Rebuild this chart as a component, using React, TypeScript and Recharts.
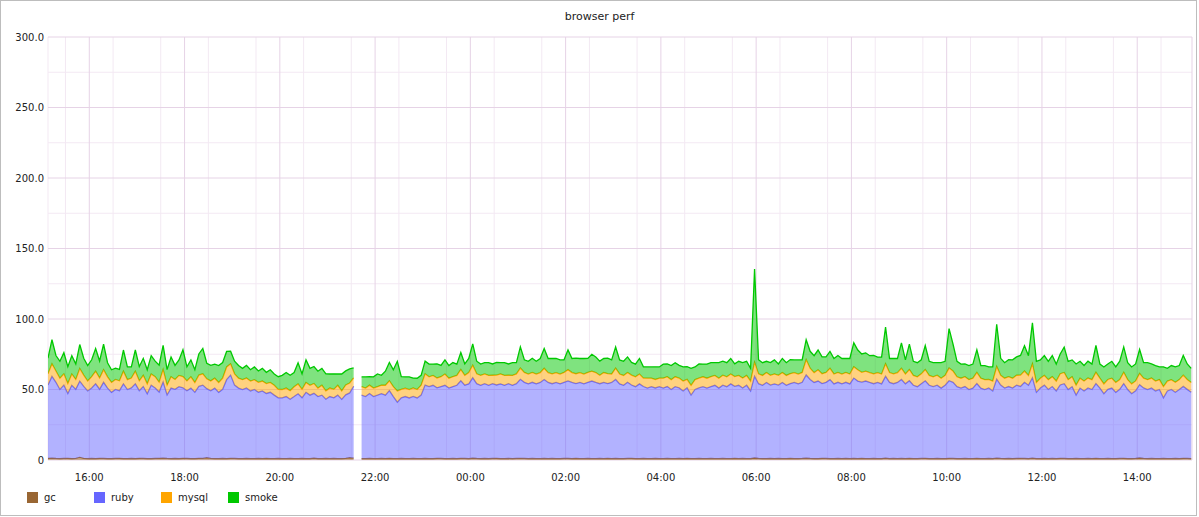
import React from "react"
import { AreaChart, Area, XAxis, YAxis, CartesianGrid, Legend } from "recharts"

if (typeof document !== "undefined") document.body.style.margin = "0"

// samples every 5 minutes starting 15:08 (minutes since midnight of day one)
const START_MIN = 908
const STEP_MIN = 5

const gc = [
  1.2, 1.3, 1.1, 1, 1.1, 1.2, 1, 1.1, 1.9, 1.2, 1,
  1.1, 1, 1.2, 1.1, 1, 1, 1.1, 1.2, 1, 1, 1.1, 1,
  1.2, 1.1, 1, 1, 1.1, 1.2, 1.3, 1.1, 1, 1.1, 1, 1.2,
  1.1, 1, 1, 1.2, 1.1, 1.6, 1.1, 1, 1, 1.1, 1, 1.2,
  1.1, 1, 1, 1.1, 1, 1, 1.1, 1, 1.2, 1, 1, 1.1,
  1, 1, 1.1, 1, 1, 1.1, 1, 1, 1.3, 1, 1, 1.1,
  1, 1.1, 1, 1, 1.2, 1.6, 1.3,
  null,
  1, 1, 1.1, 1, 1, 1.1, 1, 1.2, 1, 1, 1.1, 1, 1, 1.1, 1, 1,
  1.1, 1, 1, 1.2, 1.1, 1, 1, 1.1, 1, 1.2, 1.1, 1,
  1.3, 1.1, 1, 1.1, 1, 1.1, 1.2, 1, 1, 1.1, 1, 1.1,
  1.2, 1.1, 1, 1.1, 1, 1, 1.1, 1, 1.1, 1, 1, 1.1,
  1.1, 1, 1.2, 1, 1, 1.1, 1, 1, 1.1, 1, 1.2, 1,
  1.1, 1, 1, 1.1, 1.2, 1, 1, 1.1, 1, 1, 1.1, 1,
  1, 1.1, 1, 1, 1.1, 1, 1.2, 1, 1, 1.1, 1, 1,
  1.1, 1, 1, 1.1, 1, 1, 1.2, 1, 1.1, 1, 1, 1.4,
  1.1, 1, 1, 1.1, 1, 1.1, 1, 1, 1.2, 1, 1, 1.1,
  1.3, 1.1, 1, 1, 1.2, 1.1, 1, 1, 1.1, 1, 1.1, 1,
  1.1, 1, 1.2, 1, 1, 1.1, 1, 1, 1.3, 1, 1.1, 1,
  1.1, 1, 1.2, 1, 1, 1.1, 1.2, 1, 1, 1.1, 1, 1,
  1.2, 1.1, 1, 1, 1.1, 1, 1, 1.2, 1, 1, 1.1, 1,
  1.3, 1.1, 1, 1.1, 1, 1.1, 1.2, 1.1, 1, 1.3, 1, 1,
  1.1, 1, 1.1, 1, 1.2, 1.1, 1, 1, 1.1, 1, 1, 1.1,
  1, 1.2, 1, 1, 1.1, 1, 1, 1.1, 1.2, 1, 1, 1.1,
  1.4, 1.1, 1, 1.1, 1, 1, 1.1, 1, 1, 1.1, 1, 1.2, 1.1, 1,
]

const ruby = [
  52, 58, 54, 49, 52, 46, 52, 49, 54, 51, 48,
  50, 53, 49, 54, 50, 47, 49, 48, 53, 49, 50, 53,
  48, 51, 46, 52, 50, 47, 54, 45, 50, 49, 51, 50,
  48, 50, 47, 51, 52, 49, 48, 50, 47, 49, 56, 59,
  52, 50, 49, 50, 48, 49, 47, 48, 46, 47, 45, 43,
  43, 44, 42, 44, 46, 43, 47, 45, 46, 44, 45, 42,
  44, 43, 45, 42, 45, 46, 51,
  null,
  45, 44, 46, 44, 45, 46, 45, 48, 44, 40, 43, 44, 43, 44, 43, 45,
  52, 51, 52, 50, 51, 52, 50, 51, 52, 55, 52, 53,
  57, 53, 52, 53, 52, 53, 52, 53, 52, 53, 52, 53,
  56, 54, 53, 54, 53, 54, 56, 54, 53, 54, 53, 54,
  55, 54, 53, 54, 53, 54, 55, 54, 53, 54, 53, 54,
  56, 53, 52, 54, 52, 51, 53, 51, 50, 51, 50, 51,
  50, 51, 49, 51, 50, 48, 50, 45, 49, 50, 51, 50,
  51, 52, 50, 52, 51, 53, 51, 52, 50, 52, 48, 58,
  53, 52, 54, 52, 53, 52, 54, 52, 53, 54, 53, 54,
  59, 56, 54, 55, 53, 54, 56, 53, 54, 53, 54, 53,
  57, 55, 54, 55, 54, 53, 54, 53, 58, 54, 53, 54,
  56, 53, 55, 52, 51, 53, 55, 52, 51, 52, 50, 52,
  55, 54, 51, 50, 51, 49, 50, 53, 50, 49, 50, 48,
  56, 52, 50, 51, 50, 52, 51, 54, 52, 57, 47, 50,
  52, 49, 51, 48, 52, 53, 49, 51, 45, 50, 48, 50,
  49, 53, 50, 46, 49, 50, 47, 49, 53, 49, 46, 48,
  52, 50, 49, 50, 48, 49, 43, 48, 49, 47, 49, 51, 49, 47,
]

const mysql = [
  8, 9, 8, 8, 8, 7, 8, 7, 9, 8, 7,
  8, 9, 8, 9, 8, 7, 7, 7, 9, 7, 7, 9,
  7, 8, 7, 8, 8, 7, 9, 7, 8, 7, 8, 8,
  7, 8, 7, 8, 8, 7, 7, 7, 7, 8, 9, 8,
  8, 7, 7, 7, 7, 7, 7, 7, 7, 7, 7, 6,
  6, 6, 6, 7, 7, 6, 7, 7, 7, 6, 7, 6,
  6, 6, 7, 6, 7, 7, 6,
  null,
  6, 6, 6, 6, 6, 6, 7, 7, 7, 8, 6, 6, 6, 6, 6, 7,
  8, 7, 7, 7, 7, 8, 7, 7, 7, 8, 7, 8,
  9, 7, 7, 7, 7, 6, 7, 7, 7, 6, 7, 7,
  8, 7, 7, 7, 7, 7, 8, 7, 7, 7, 7, 7,
  8, 7, 7, 7, 7, 7, 7, 7, 6, 7, 7, 6,
  8, 7, 7, 7, 7, 7, 7, 6, 7, 6, 6, 6,
  7, 7, 7, 7, 7, 7, 6, 7, 7, 7, 7, 7,
  7, 7, 7, 7, 7, 7, 7, 7, 7, 7, 7, 10,
  7, 7, 7, 7, 7, 7, 7, 7, 7, 7, 7, 7,
  11, 8, 7, 8, 7, 7, 8, 7, 7, 7, 7, 7,
  8, 8, 7, 7, 7, 7, 7, 7, 9, 7, 7, 7,
  8, 7, 8, 7, 7, 7, 8, 7, 7, 7, 7, 7,
  9, 8, 7, 7, 7, 7, 7, 8, 7, 7, 6, 7,
  9, 7, 7, 7, 7, 7, 8, 8, 7, 10, 7, 7,
  7, 7, 7, 7, 8, 8, 7, 7, 7, 7, 7, 7,
  7, 8, 7, 7, 7, 7, 7, 7, 8, 7, 7, 7,
  8, 7, 7, 7, 7, 7, 8, 7, 7, 7, 7, 8, 7, 7,
]

const smoke = [
  11, 17, 11, 12, 15, 12, 13, 11, 17, 12, 11,
  12, 16, 12, 18, 10, 9, 8, 8, 15, 9, 8, 15,
  10, 12, 10, 13, 11, 12, 17, 11, 14, 10, 11, 19,
  10, 12, 9, 15, 18, 11, 11, 10, 12, 11, 11, 9,
  9, 9, 8, 9, 8, 9, 8, 9, 8, 9, 8, 9,
  10, 11, 11, 10, 15, 11, 16, 12, 12, 12, 12, 12,
  10, 11, 8, 12, 10, 10, 7,
  null,
  7, 8, 6, 8, 9, 7, 10, 13, 12, 21, 9, 8, 9, 7, 8, 7,
  9, 9, 8, 10, 8, 10, 9, 10, 8, 12, 8, 10,
  15, 9, 8, 8, 9, 8, 9, 8, 9, 8, 9, 8,
  15, 9, 9, 10, 9, 10, 14, 10, 11, 10, 10, 9,
  14, 10, 11, 10, 11, 10, 12, 11, 10, 10, 11, 10,
  15, 10, 10, 11, 9, 9, 11, 8, 8, 8, 9, 8,
  10, 9, 10, 10, 9, 10, 9, 12, 9, 10, 9, 10,
  10, 9, 11, 10, 10, 11, 9, 10, 11, 10, 9, 66,
  10, 9, 8, 9, 10, 8, 10, 9, 10, 9, 10, 9,
  14, 12, 12, 14, 12, 11, 12, 11, 12, 11, 10, 11,
  17, 14, 13, 13, 12, 13, 11, 12, 26, 10, 11, 10,
  18, 10, 18, 10, 10, 10, 17, 10, 10, 9, 11, 10,
  28, 19, 11, 10, 9, 10, 10, 16, 9, 10, 9, 10,
  30, 12, 11, 12, 13, 13, 14, 18, 14, 29, 15, 13,
  14, 13, 15, 12, 14, 18, 13, 12, 15, 12, 11, 12,
  11, 19, 10, 12, 11, 12, 11, 13, 18, 12, 12, 12,
  17, 11, 12, 10, 11, 9, 14, 9, 10, 11, 10, 14, 11, 10,
]

const xTicks = [960, 1080, 1200, 1320, 1440, 1560, 1680, 1800, 1920, 2040, 2160, 2280]
const xTickLabels = ["16:00", "18:00", "20:00", "22:00", "00:00", "02:00", "04:00", "06:00", "08:00", "10:00", "12:00", "14:00"]
const yTicks = [0, 50, 100, 150, 200, 250, 300]
const yTickLabels = ["0", "50.0", "100.0", "150.0", "200.0", "250.0", "300.0"]

const minorX = [
  908, 930, 990, 1050, 1110, 1170, 1230, 1290, 1350, 1410, 1470, 1530, 1590, 1650,
  1710, 1770, 1830, 1890, 1950, 2010, 2070, 2130, 2190, 2250, 2310,
]
const minorY = [25, 75, 125, 175, 225, 275]

const data = ruby.map((value, i) => ({
  t: START_MIN + i * STEP_MIN,
  gc: gc[i],
  ruby: value,
  mysql: mysql[i],
  smoke: smoke[i],
}))

const series = [
  { key: "gc", color: "#996633" },
  { key: "ruby", color: "#6666ff" },
  { key: "mysql", color: "#ffa500" },
  { key: "smoke", color: "#00c800" },
]

// legend in graphite's own order, not recharts' sorted one
const renderLegend = () => (
  <div style={{ display: "flex", alignItems: "center", height: 20 }}>
    {series.map((s, index) => (
      <div key={`legend-${index}`} style={{ display: "flex", alignItems: "center", width: 67 }}>
        <div style={{ width: 11, height: 11, backgroundColor: s.color, marginRight: 6 }} />
        <span style={{ fontSize: 10, color: "#222" }}>{s.key}</span>
      </div>
    ))}
  </div>
)

export default function App() {
  return (
    <div style={{ position: "relative", width: 1199, height: 517, background: "#fff", fontFamily: "'DejaVu Sans', sans-serif" }}>
      <AreaChart
        width={1199}
        height={517}
        data={data}
        margin={{ top: 37, right: 7, left: 8, bottom: 10 }}
        style={{ fontFamily: "'DejaVu Sans', sans-serif" }}
      >
        <CartesianGrid stroke="#f3e9f3" verticalValues={minorX} horizontalValues={minorY} />
        <CartesianGrid stroke="#e6d3e6" verticalValues={[...xTicks, 2349]} horizontalValues={yTicks} />
        <XAxis
          dataKey="t"
          type="number"
          domain={[908, 2349]}
          allowDataOverflow
          ticks={xTicks}
          interval={0}
          tickFormatter={(v: number) => xTickLabels[xTicks.indexOf(v)]}
          axisLine={false}
          tickLine={false}
          tickMargin={8}
          height={27}
          tick={{ fontSize: 10, fill: "#222" }}
        />
        <YAxis
          type="number"
          domain={[0, 300]}
          ticks={yTicks}
          interval={0}
          tickFormatter={(v: number) => yTickLabels[yTicks.indexOf(v)]}
          axisLine={false}
          tickLine={false}
          tickSize={4}
          tickMargin={0}
          width={40}
          tick={{ fontSize: 10, fill: "#222" }}
        />
        <Legend
          verticalAlign="bottom"
          align="left"
          height={20}
          wrapperStyle={{ left: 27, bottom: 10, width: 300 }}
          content={renderLegend}
        />
        {series.map((s) => (
          <Area
            key={s.key}
            type="linear"
            dataKey={s.key}
            name={s.key}
            stackId="perf"
            stroke={s.color}
            strokeWidth={1.3}
            fill={s.color}
            fillOpacity={0.5}
            dot={false}
            activeDot={false}
            isAnimationActive={false}
          />
        ))}
      </AreaChart>
      <div
        style={{
          position: "absolute",
          top: 9,
          left: 0,
          width: 1199,
          textAlign: "center",
          fontSize: 11,
          lineHeight: "16px",
          color: "#222",
        }}
      >
        browser perf
      </div>
      <div
        style={{
          position: "absolute",
          top: 0,
          left: 0,
          width: 1197,
          height: 516,
          boxSizing: "border-box",
          border: "1px solid #bdbdbd",
          pointerEvents: "none",
        }}
      />
    </div>
  )
}
